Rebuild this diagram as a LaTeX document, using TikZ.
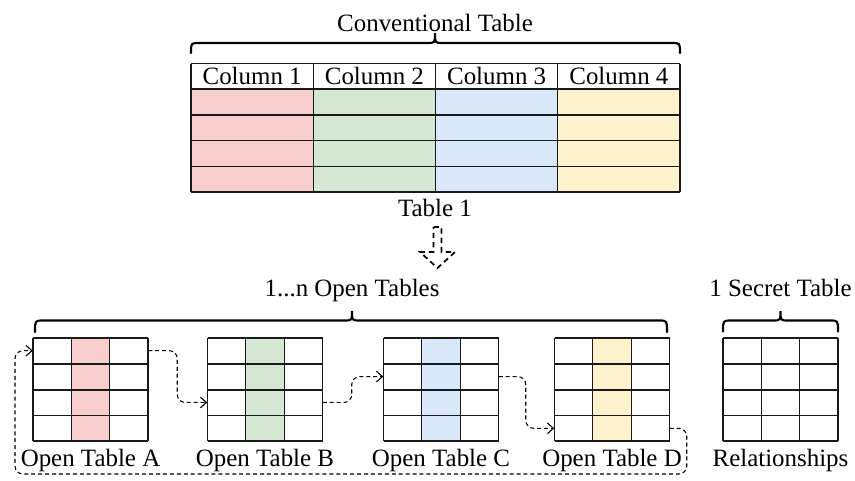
\documentclass[tikz,border=0pt]{standalone}
\usepackage{fontspec}
\setmainfont{Liberation Serif}
\usetikzlibrary{arrows.meta,calc,fit}
\definecolor{cred}{HTML}{F8CECC}
\definecolor{cgreen}{HTML}{D5E8D4}
\definecolor{cblue}{HTML}{DAE8FC}
\definecolor{cyellow}{HTML}{FFF2CC}
\newcommand{\mybrace}[6]{% x0, x1, xm, yb, yf, yt
  \draw[brace] (#1,#4) .. controls (#1,#5) .. (#1+8,#5) -- (#3-8,#5)
    .. controls (#3,#5) .. (#3,#6) .. controls (#3,#5) .. (#3+8,#5)
    -- (#2-8,#5) .. controls (#2,#5) .. (#2,#4);}
\tikzset{
  grid/.style={draw=black!90, line width=0.85pt},
  brace/.style={line width=1.6pt, line cap=round},
  lbl/.style={font=\fontsize{18.7}{22}\selectfont, inner sep=0pt},
  flow/.style={draw=black, line width=0.8pt, dash pattern=on 3pt off 2.2pt,
    rounded corners=6, -{Straight Barb[length=4.5pt,width=8pt]}},
}
\begin{document}
\begin{tikzpicture}[x=0.75pt,y=-0.75pt]
\useasboundingbox (0,0) rectangle (855,480);
% ---------- conventional table ----------
\foreach \i/\c in {0/cred,1/cgreen,2/cblue,3/cyellow}{
  \fill[\c] (191+\i*122.25,89) rectangle (191+\i*122.25+122.25,192);
}
\node[inner sep=0, fit={(191,63.5) (680,192)}] (T1) {};
\foreach \y in {63.5,89,115,140.7,166.3,192}{
  \draw[grid] (191,\y) -- (680,\y);
}
\foreach \x in {191,313.25,435.5,557.75,680}{
  \draw[grid] (\x,63.5) -- (\x,192);
}
\foreach \i in {1,2,3,4}{
  \node[lbl, anchor=base] (h\i) at (191+\i*122.25-61.1,84.5) {Column \i};
}
\mybrace{191}{680}{435}{53}{43}{33}
\node[lbl, anchor=base] (ct) at (435,31.5) {Conventional Table};
\node[lbl, anchor=base] (t1) at (435,216) {Table 1};
% ---------- big dashed arrow ----------
\draw[line width=1.3pt, dash pattern=on 4pt off 3pt]
  (433.5,227) -- (441.5,227) -- (441.5,252) -- (455,252) -- (437.5,268)
  -- (420,252) -- (433.5,252) -- cycle;
% ---------- small tables ----------
\foreach \n/\x/\c in {A/33/cred,B/207.5/cgreen,C/383.5/cblue,D/554.5/cyellow,S/723/white}{
  \fill[\c] (\x+38.33,338) rectangle (\x+76.67,441);
  \node[inner sep=0, fit={(\x,338) (\x+115,441)}] (T\n) {};
  \foreach \y in {338,364,390,415.5,441}{
    \draw[grid] (\x,\y) -- (\x+115,\y);
  }
  \foreach \dx in {0,38.33,76.67,115}{
    \draw[grid] (\x+\dx,338) -- (\x+\dx,441);
  }
}
\node[lbl, anchor=base] (la) at (TA.south |- 0,466.5) {Open Table A};
\node[lbl, anchor=base] (lb) at (TB.south |- 0,466.5) {Open Table B};
\node[lbl, anchor=base] (lc) at (TC.south |- 0,466.5) {Open Table C};
\node[lbl, anchor=base] (ld) at (TD.south |- 0,466.5) {Open Table D};
\node[lbl, anchor=base] (ls) at (TS.south |- 0,466.5) {Relationships};
\mybrace{35}{667}{352}{332}{320.5}{311}
\node[lbl, anchor=base] (ot) at (352,296.5) {1...n Open Tables};
\mybrace{723}{838}{780.5}{331.5}{320.5}{311}
\node[lbl, anchor=base] (st) at (780.5,296.5) {1 Secret Table};
% ---------- dashed flow ----------
\coordinate (bl) at (15,474);
\draw[flow] ($(TA.north east)!0.125!(TA.south east)$) -- ++(29,0)
  |- ($(TB.north west)!0.625!(TB.south west)$);
\draw[flow] ($(TB.north east)!0.625!(TB.south east)$) -- ++(29,0)
  |- ($(TC.north west)!0.375!(TC.south west)$);
\draw[flow] ($(TC.north east)!0.375!(TC.south east)$) -- ++(27,0)
  |- ($(TD.north west)!0.875!(TD.south west)$);
\draw[flow] ($(TD.north east)!0.875!(TD.south east)$) -- ++(17,0)
  |- (bl) |- ($(TA.north west)!0.125!(TA.south west)$);
\end{tikzpicture}
\end{document}
